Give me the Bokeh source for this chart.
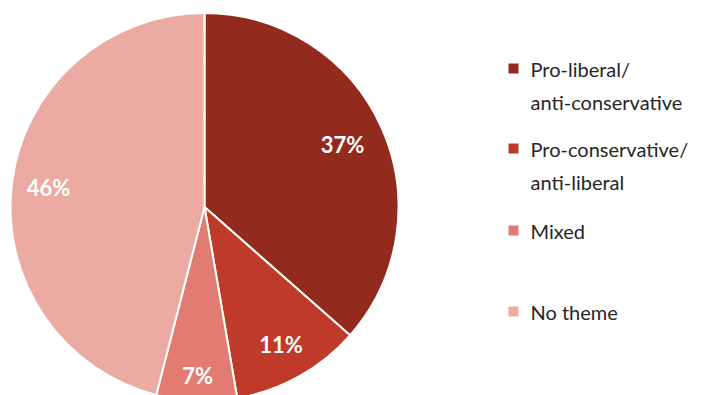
import math
from bokeh.plotting import figure
from bokeh.models import Range1d, ColumnDataSource
from bokeh.core.properties import value
from bokeh.embed import file_html
from bokeh.resources import INLINE

# Data
categories = ["Pro-liberal/\nanti-conservative", "Pro-conservative/\nanti-liberal", "Mixed", "No theme"]
shares = [36.5, 10.8, 6.7, 46.0]
labels = ["37%", "11%", "7%", "46%"]
colors = ["#922A1D", "#BF3A28", "#E27C72", "#EBAAA2"]

W, H = 725, 395
p = figure(width=W, height=H, output_backend="svg", toolbar_location=None,
           x_range=Range1d(0, W), y_range=Range1d(0, H), min_border=0)
p.axis.visible = False
p.grid.visible = False
p.outline_line_color = None
p.background_fill_color = "white"

cx, cy, R = 204, H - 206.5, 194

total = float(sum(shares))
starts, ends, lx, ly = [], [], [], []
acc = 0.0
label_ratio = [0.78, 0.81, 0.87, 0.81]
for i, s in enumerate(shares):
    a0 = math.pi / 2 - 2 * math.pi * acc / total
    acc += s
    a1 = math.pi / 2 - 2 * math.pi * acc / total
    starts.append(a0)
    ends.append(a1)
    mid = (a0 + a1) / 2
    lx.append(cx + R * label_ratio[i] * math.cos(mid))
    ly.append(cy + R * label_ratio[i] * math.sin(mid))

src = ColumnDataSource(dict(start=starts, end=ends, color=colors, lx=lx, ly=ly, label=labels))
p.wedge(x=cx, y=cy, radius=R, start_angle="start", end_angle="end", direction="clock",
        fill_color="color", line_color="white", line_width=2, source=src)
p.text(x="lx", y="ly", text="label", source=src, text_color="white",
       text_font=value("Lato"), text_font_style="bold", text_font_size="22px",
       text_align="center", text_baseline="middle")

# Legend (manual)
leg_y = [68, 148, 230, 311]
sq_x = 513
tx = 530
line_gap = 33
sq_xs, sq_ys, t_xs, t_ys, t_txt = [], [], [], [], []
for i, cat in enumerate(categories):
    y = H - leg_y[i]
    sq_xs.append(sq_x)
    sq_ys.append(y)
    for j, line in enumerate(cat.split("\n")):
        t_xs.append(tx)
        t_ys.append(y - j * line_gap)
        t_txt.append(line)
p.rect(x=sq_xs, y=sq_ys, width=10, height=10, fill_color=colors, line_color=None)
p.text(x=t_xs, y=t_ys, text=t_txt, text_color="#262626", text_font=value("Lato"),
       text_font_size="20px", text_align="left", text_baseline="middle")

open("out.html", "w").write(file_html(p, INLINE))
